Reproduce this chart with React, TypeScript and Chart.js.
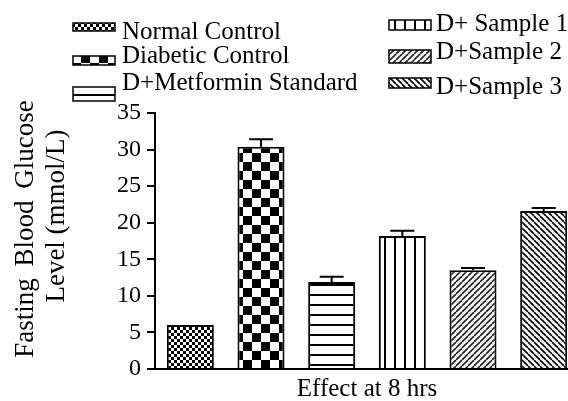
import React, { useEffect, useRef } from "react";
import { Chart, registerables } from "chart.js";

Chart.register(...registerables);

const categories = ["Effect at 8 hrs"];
const seriesNames = [
  "Normal Control",
  "Diabetic Control",
  "D+Metformin Standard",
  "D+ Sample 1",
  "D+Sample 2",
  "D+Sample 3",
];
const meanValues = [6.0, 30.4, 11.9, 18.2, 13.5, 21.6];
const errorValues = [0, 1.0, 0.7, 0.7, 0.3, 0.4];
const yTickValues = [0, 5, 10, 15, 20, 25, 30, 35];
const yTitleLines = ["Fasting Blood Glucose", "Level (mmol/L)"];
const xTitle = "Effect at 8 hrs";

const FONT = "'Liberation Serif', 'Times New Roman', serif";

type Kind = "fineChecker" | "bigChecker" | "hLines" | "vLines" | "fwdHatch" | "backHatch";
const patternKinds: Kind[] = ["fineChecker", "bigChecker", "hLines", "vLines", "fwdHatch", "backHatch"];

function makePattern(kind: Kind): CanvasPattern | string {
  const c = document.createElement("canvas");
  let s = 6;
  if (kind === "bigChecker") s = 18;
  if (kind === "hLines" || kind === "vLines") s = 10;
  c.width = s;
  c.height = s;
  const g = c.getContext("2d");
  if (!g) return "#fff";
  g.fillStyle = "#fff";
  g.fillRect(0, 0, s, s);
  g.fillStyle = "#000";
  g.strokeStyle = "#000";
  if (kind === "fineChecker") {
    g.fillRect(0, 0, 3, 3);
    g.fillRect(3, 3, 3, 3);
  } else if (kind === "bigChecker") {
    g.fillRect(9, 0, 9, 9);
    g.fillRect(0, 9, 9, 9);
  } else if (kind === "hLines") {
    g.fillRect(0, 4, s, 2);
  } else if (kind === "vLines") {
    g.fillRect(4, 0, 2, s);
  } else if (kind === "fwdHatch") {
    g.strokeStyle = "#222";
    g.lineWidth = 1.6;
    for (const o of [-s, 0, s]) {
      g.beginPath();
      g.moveTo(o, s);
      g.lineTo(o + s, 0);
      g.stroke();
    }
  } else if (kind === "backHatch") {
    g.lineWidth = 1.6;
    for (const o of [-s, 0, s]) {
      g.beginPath();
      g.moveTo(o, 0);
      g.lineTo(o + s, s);
      g.stroke();
    }
  }
  const ctx2 = document.createElement("canvas").getContext("2d");
  const p = ctx2 ? ctx2.createPattern(c, "repeat") : null;
  return p || "#fff";
}

// legend layout (positions only)
const legendSlots = [
  { sx: 73, sy: 23, sw: 42, sh: 8, tx: 122, ty: 39 },
  { sx: 73, sy: 56, sw: 42, sh: 9, tx: 122, ty: 63 },
  { sx: 73, sy: 87, sw: 42, sh: 14, tx: 122, ty: 90 },
  { sx: 389, sy: 20, sw: 42, sh: 10, tx: 436, ty: 31 },
  { sx: 389, sy: 50, sw: 42, sh: 13, tx: 436, ty: 59 },
  { sx: 389, sy: 78, sw: 42, sh: 10, tx: 436, ty: 94 },
];

// y title layout: center x/y of each rotated line, extra word gap
const yTitleSlots = [
  { cx: 26, cy: 229, gap: 5 },
  { cx: 57, cy: 216, gap: 0 },
];

export default function App() {
  const ref = useRef<HTMLCanvasElement | null>(null);

  useEffect(() => {
    const canvas = ref.current;
    if (!canvas) return;
    const patterns = patternKinds.map((k) => makePattern(k));

    const errorBars = {
      id: "errorBars",
      afterDatasetsDraw(chart: any) {
        const ctx = chart.ctx;
        const y = chart.scales.y;
        ctx.save();
        ctx.strokeStyle = "#000";
        ctx.lineWidth = 2;
        meanValues.forEach((v, i) => {
          const err = errorValues[i];
          if (!err) return;
          const bar = chart.getDatasetMeta(i).data[0];
          const top = y.getPixelForValue(v + err);
          ctx.beginPath();
          ctx.moveTo(bar.x, bar.y);
          ctx.lineTo(bar.x, top);
          ctx.moveTo(bar.x - 12, top);
          ctx.lineTo(bar.x + 12, top);
          ctx.stroke();
        });
        ctx.restore();
      },
    };

    const customText = {
      id: "customText",
      afterDraw(chart: any) {
        const ctx = chart.ctx;
        ctx.save();
        seriesNames.forEach((name, i) => {
          const s = legendSlots[i];
          ctx.fillStyle = patterns[i];
          ctx.fillRect(s.sx, s.sy, s.sw, s.sh);
          ctx.strokeStyle = "#000";
          ctx.lineWidth = 1.5;
          ctx.strokeRect(s.sx, s.sy, s.sw, s.sh);
          ctx.fillStyle = "#000";
          ctx.font = `25px ${FONT}`;
          ctx.textAlign = "left";
          ctx.textBaseline = "alphabetic";
          ctx.fillText(name, s.tx, s.ty);
        });
        // y axis title (two rotated lines)
        ctx.font = `27px ${FONT}`;
        ctx.fillStyle = "#000";
        ctx.textBaseline = "middle";
        ctx.textAlign = "left";
        yTitleLines.forEach((line, i) => {
          const slot = yTitleSlots[i];
          const words = line.split(" ");
          const space = ctx.measureText(" ").width + slot.gap;
          const widths = words.map((w: string) => ctx.measureText(w).width);
          const total = widths.reduce((a: number, b: number) => a + b, 0) + space * (words.length - 1);
          ctx.save();
          ctx.translate(slot.cx, slot.cy);
          ctx.rotate(-Math.PI / 2);
          let x = -total / 2;
          words.forEach((w: string, k: number) => {
            ctx.fillText(w, x, 0);
            x += widths[k] + space;
          });
          ctx.restore();
        });
        ctx.restore();
      },
    };

    const chart = new Chart(canvas, {
      type: "bar",
      data: {
        labels: categories,
        datasets: seriesNames.map((name, i) => ({
          label: name,
          data: [meanValues[i]],
          backgroundColor: patterns[i] as any,
          borderColor: "#000",
          borderWidth: 2,
          categoryPercentage: 1,
          barPercentage: 0.665,
        })),
      },
      options: {
        responsive: false,
        animation: false,
        events: [],
        layout: { padding: { left: 0, right: 11, top: 113, bottom: 0 } },
        plugins: {
          legend: { display: false },
          tooltip: { enabled: false },
          title: { display: false },
        },
        scales: {
          x: {
            type: "category",
            ticks: { display: false },
            grid: { display: false },
            border: { display: true, color: "#000", width: 2 },
            title: {
              display: true,
              text: xTitle,
              color: "#000",
              font: { family: FONT, size: 25, lineHeight: 0.9 },
              padding: { top: 0, bottom: 0 },
            },
            afterFit(scale: any) {
              scale.height = 32;
            },
          },
          y: {
            min: 0,
            max: 35,
            afterBuildTicks(scale: any) {
              scale.ticks = yTickValues.map((v) => ({ value: v }));
            },
            ticks: {
              color: "#000",
              padding: 6,
              font: { family: FONT, size: 24 },
            },
            grid: {
              drawOnChartArea: false,
              drawTicks: true,
              tickLength: 8,
              color: "#000",
              lineWidth: 2,
            },
            border: { display: true, color: "#000", width: 2 },
            title: { display: false },
            afterFit(scale: any) {
              scale.width = 155;
            },
          },
        },
      },
      plugins: [errorBars, customText],
    });

    return () => chart.destroy();
  }, []);

  return (
    <div
      style={{
        position: "fixed",
        left: 0,
        top: 0,
        width: 568,
        height: 401,
        overflow: "hidden",
        background: "#fff",
      }}
    >
      <canvas ref={ref} width={590} height={401} style={{ display: "block" }} />
    </div>
  );
}
